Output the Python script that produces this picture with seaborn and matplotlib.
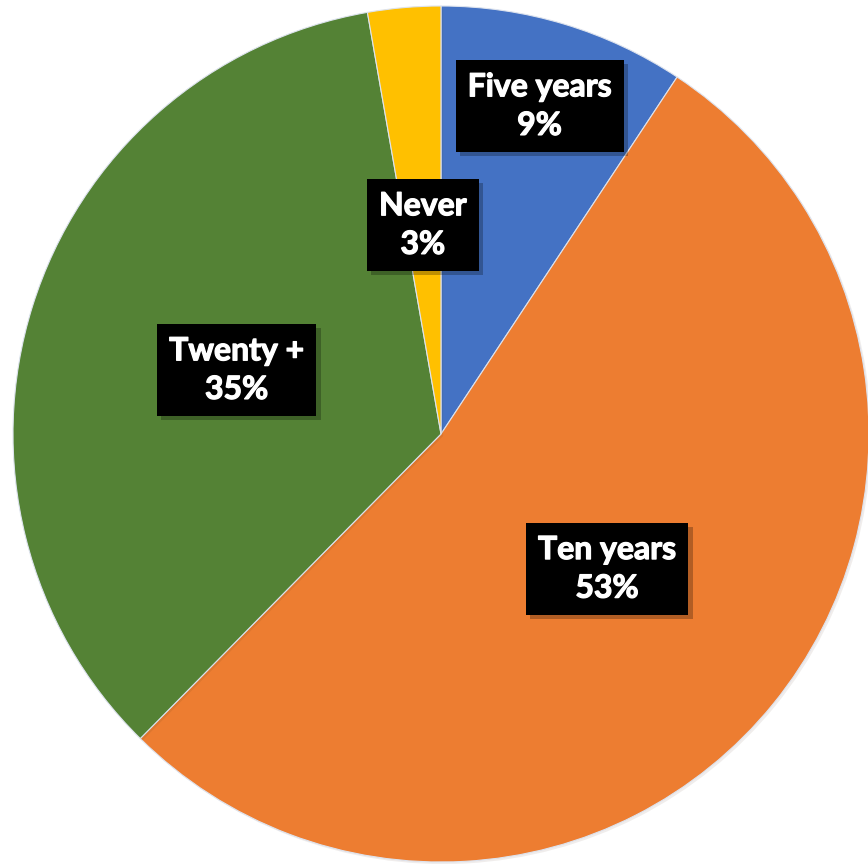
import matplotlib
matplotlib.use("Agg")
import matplotlib.pyplot as plt
import matplotlib.patheffects as pe
import numpy as np
import seaborn as sns

# Data (shares, clockwise from 12 o'clock)
categories = ["Five years", "Ten years", "Twenty +", "Never"]
shares = [9.3, 53.1, 34.85, 2.75]
pct_labels = ["9%", "53%", "35%", "3%"]
colors = ["#4472C4", "#ED7D31", "#548235", "#FFC000"]
label_dist = [0.8, 0.5, 0.5, 0.49]

sns.set_theme(style="white")
plt.rcParams["font.family"] = ["Lato", "DejaVu Sans"]

fig = plt.figure(figsize=(8.68, 8.66), dpi=100)
ax = fig.add_axes([13 / 868, 4 / 866, 856 / 868, 856 / 866])

wedges, _ = ax.pie(
    shares,
    colors=sns.color_palette(colors),
    startangle=90,
    counterclock=False,
    radius=1,
    wedgeprops=dict(edgecolor="#dde3ee", linewidth=0.8),
)
for w in wedges:
    w.set_path_effects([pe.SimplePatchShadow(offset=(1.5, -1.5), alpha=0.08), pe.Normal()])

# labels in black boxes at the middle angle of each slice
for w, cat, pct, d in zip(wedges, categories, pct_labels, label_dist):
    ang = np.deg2rad((w.theta1 + w.theta2) / 2)
    t = ax.text(d * np.cos(ang), d * np.sin(ang), f"{cat}\n{pct}",
                ha="center", va="center", color="white", fontsize=23,
                fontweight="bold", linespacing=1.4,
                bbox=dict(boxstyle="square,pad=0.38", facecolor="black", edgecolor="none"))
    t.set_path_effects([pe.withStroke(linewidth=0.9, foreground="white")])
    t.get_bbox_patch().set_path_effects(
        [pe.SimplePatchShadow(offset=(3, -3), alpha=0.25), pe.Normal()])

ax.set_xlim(-1, 1)
ax.set_ylim(-1, 1)
ax.set_aspect("equal")
ax.axis("off")

fig.savefig("out.png", dpi=100, facecolor="white")
